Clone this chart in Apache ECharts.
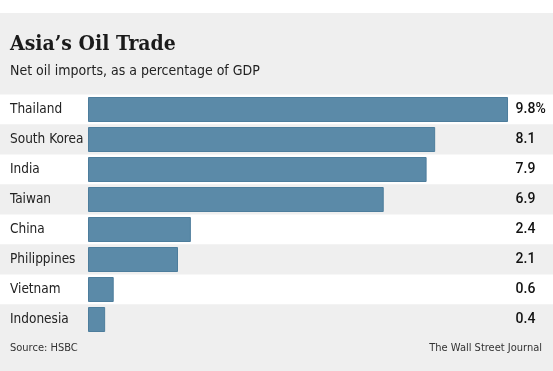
<!DOCTYPE html>
<html><head><meta charset="utf-8">
<script src="https://cdn.jsdelivr.net/npm/echarts@6/dist/echarts.min.js"></script>
<style>html,body{margin:0;padding:0;background:#fff}#c{width:553px;height:371px}</style>
</head><body><div id="c"></div>
<script>
const categories = ['Thailand','South Korea','India','Taiwan','China','Philippines','Vietnam','Indonesia'];
const values = [9.8, 8.1, 7.9, 6.9, 2.4, 2.1, 0.6, 0.4];
const valueLabels = ['9.8%','8.1','7.9','6.9','2.4','2.1','0.6','0.4'];

const sans = '"DejaVu Sans Condensed", Roboto, sans-serif';
const chart = echarts.init(document.getElementById('c'), null, {renderer:'canvas'});
chart.setOption({
  animation: false,
  backgroundColor: '#fff',
  graphic: [
    {type:'rect', left:0, top:13, shape:{width:553, height:358}, style:{fill:'#efefef'}, z:-10}
  ],
  title: [
    {text:"Asia’s Oil Trade", left:5, top:29, textStyle:{fontFamily:'"DejaVu Serif Condensed","DejaVu Serif",serif', fontWeight:'bold', fontSize:21, color:'#1a1a1a'}},
    {text:'Net oil imports, as a percentage of GDP', left:5, top:59, textStyle:{fontFamily:sans, fontWeight:'normal', fontSize:14, color:'#222'}},
    {text:'Source: HSBC', left:5, top:337.5, textStyle:{fontFamily:sans, fontWeight:'normal', fontSize:11, color:'#333'}},
    {text:'The Wall Street Journal', right:6, top:337.5, textStyle:{fontFamily:sans, fontWeight:'normal', fontSize:11, color:'#333'}}
  ],
  grid: [
    {left:88, right:36.4, top:94.5, height:240, outerBoundsMode:'none'},
    {left:0, right:0, top:94.5, height:240, outerBoundsMode:'none'}
  ],
  xAxis: [
    {type:'value', gridIndex:0, min:0, max:10, show:false},
    {type:'value', gridIndex:1, min:0, max:1, show:false}
  ],
  yAxis: [
    {type:'category', gridIndex:0, data:categories, inverse:true, axisLine:{show:false}, axisTick:{show:false},
     axisLabel:{align:'left', margin:78, overflow:'none', padding:[3,0,0,0], fontFamily:sans, fontSize:13.5, color:'#222'}},
    {type:'category', gridIndex:0, data:valueLabels, inverse:true, position:'right', axisLine:{show:false}, axisTick:{show:false},
     axisLabel:{align:'left', margin:-1, overflow:'none', padding:[3,0,0,0], fontFamily:'Roboto, sans-serif', fontSize:14, fontWeight:500, color:'#111'}},
    {type:'category', gridIndex:1, data:categories, inverse:true, axisLine:{show:false}, axisTick:{show:false}, axisLabel:{show:false},
     splitArea:{show:true, areaStyle:{color:['#ffffff','#efefef']}}}
  ],
  series: [
    {type:'bar', xAxisIndex:0, yAxisIndex:0, data:values, barWidth:25, itemStyle:{color:'#5b8aa8', borderColor:'#4d7d9c', borderWidth:1}, z:5}
  ]
});
</script></body></html>
